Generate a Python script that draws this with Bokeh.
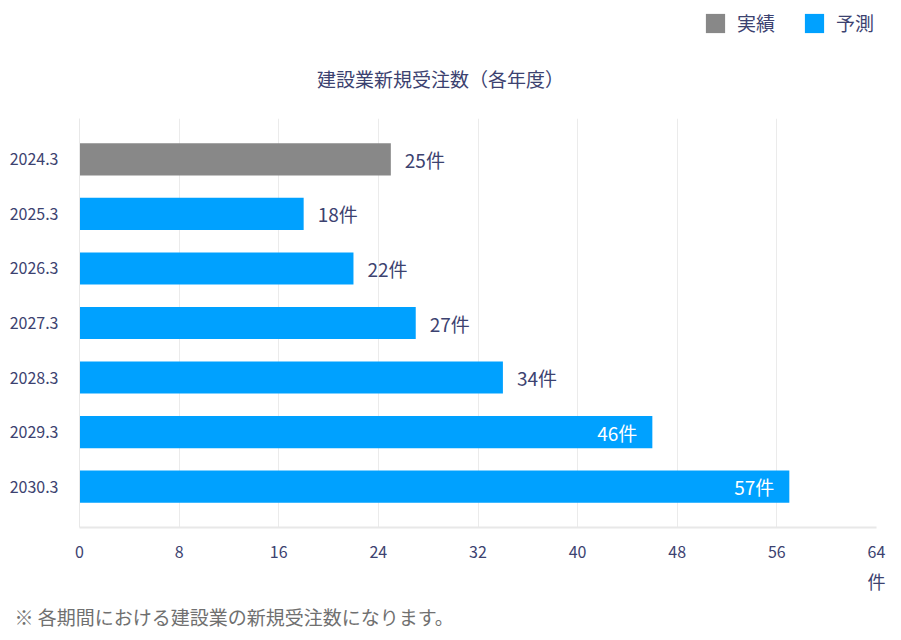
from bokeh.plotting import figure
from bokeh.models import (ColumnDataSource, Range1d, FixedTicker, Label, Legend, LegendItem, Title)
from bokeh.core.properties import value
from bokeh.layouts import column
from bokeh.embed import file_html
from bokeh.resources import INLINE

categories = ["2024.3", "2025.3", "2026.3", "2027.3", "2028.3", "2029.3", "2030.3"]
values = [25, 18, 22, 27, 34, 46, 57]
kinds = ["実績", "予測", "予測", "予測", "予測", "予測", "予測"]
series = ["実績", "予測"]
x_ticks = [0, 8, 16, 24, 32, 40, 48, 56, 64]
title_text = "建設業新規受注数（各年度）"
unit_text = "件"
note_text = "※ 各期間における建設業の新規受注数になります。"

FONT = "Noto Sans CJK JP"
TXT = "#3c4270"
COLORS = {"実績": "#888888", "予測": "#00a1ff"}

# ---------- header: title + legend (frame aligned with the chart frame) ----------
h = figure(width=901, height=118, output_backend="svg", toolbar_location=None, title=None,
           x_axis_type=None, y_axis_type=None, x_range=Range1d(0, 1), y_range=Range1d(0, 1),
           min_border=0)
h.outline_line_color = None
h.grid.grid_line_color = None
# legend-only renderers (kept outside the visible range)
dummy = {k: h.rect(x=[-5], y=[-5], width=1, height=1, fill_color=COLORS[k], line_color=None)
         for k in series}
h.add_layout(Label(x=361, y=40, x_units="screen", y_units="screen", text=title_text,
                   text_align="center", text_baseline="middle", text_font=FONT,
                   text_font_size="19px", text_color=TXT))
legend = Legend(items=[LegendItem(label=k, renderers=[dummy[k]]) for k in series],
                location=(624, 82), orientation="horizontal",
                glyph_width=24, glyph_height=24, label_standoff=10, spacing=27,
                padding=0, margin=0, border_line_color=None, background_fill_alpha=0,
                label_text_font=FONT, label_text_font_size="19px", label_text_color=TXT,
                label_height=24)
h.add_layout(legend, "center")

# ---------- main chart ----------
p = figure(width=901, height=522, output_backend="svg", toolbar_location=None, title=None,
           x_range=Range1d(0, 64), y_range=Range1d(len(categories) - 0.25, -0.75),
           min_border_left=79, min_border_right=25, min_border_top=0, min_border_bottom=113)
p.outline_line_color = None
p.background_fill_color = "white"

for k in series:
    idx = [i for i, kk in enumerate(kinds) if kk == k]
    src = ColumnDataSource(dict(y=idx, v=[values[i] for i in idx]))
    p.hbar(y="y", right="v", left=0, height=0.59, source=src,
           fill_color=COLORS[k], line_color=None)

inside = [v > 40 for v in values]
lab_src = ColumnDataSource(dict(
    x=values, y=list(range(len(values))),
    t=[f"{v}件" for v in values],
    align=["right" if b else "left" for b in inside],
    xo=[-15 if b else 14 for b in inside],
    col=["white" if b else TXT for b in inside],
))
p.text(x="x", y="y", text="t", source=lab_src, text_align="align", x_offset="xo",
       text_baseline="middle", text_color="col", text_font_size=value("19px"),
       text_font=value(FONT))

p.xaxis.ticker = FixedTicker(ticks=x_ticks)
p.yaxis.ticker = FixedTicker(ticks=list(range(len(categories))))
p.yaxis.major_label_overrides = {i: c for i, c in enumerate(categories)}
for ax in (p.xaxis[0], p.yaxis[0]):
    ax.major_tick_line_color = None
    ax.minor_tick_line_color = None
    ax.major_label_text_font = FONT
    ax.major_label_text_font_size = "16px"
    ax.major_label_text_color = TXT
    ax.axis_line_color = "#e8e8e8"
p.xaxis.axis_line_width = 2
p.xaxis.major_label_standoff = 12
p.yaxis.major_label_standoff = 15
p.xgrid.grid_line_color = "#ebebeb"
p.ygrid.grid_line_color = None

# unit and footnote below the x axis (stacked outward from the axis)
p.add_layout(Title(text=unit_text, align="left", offset=788, standoff=14,
                   vertical_align="top", text_baseline="top",
                   text_font=FONT, text_font_size="18px", text_font_style="normal",
                   text_color=TXT), "below")
p.add_layout(Title(text=note_text, align="left", offset=-65, standoff=1,
                   vertical_align="top", text_baseline="top",
                   text_font=FONT, text_font_size="19px", text_font_style="normal",
                   text_color="#707070"), "below")

layout = column(h, p, spacing=0)
open("out.html", "w").write(file_html(layout, INLINE))
